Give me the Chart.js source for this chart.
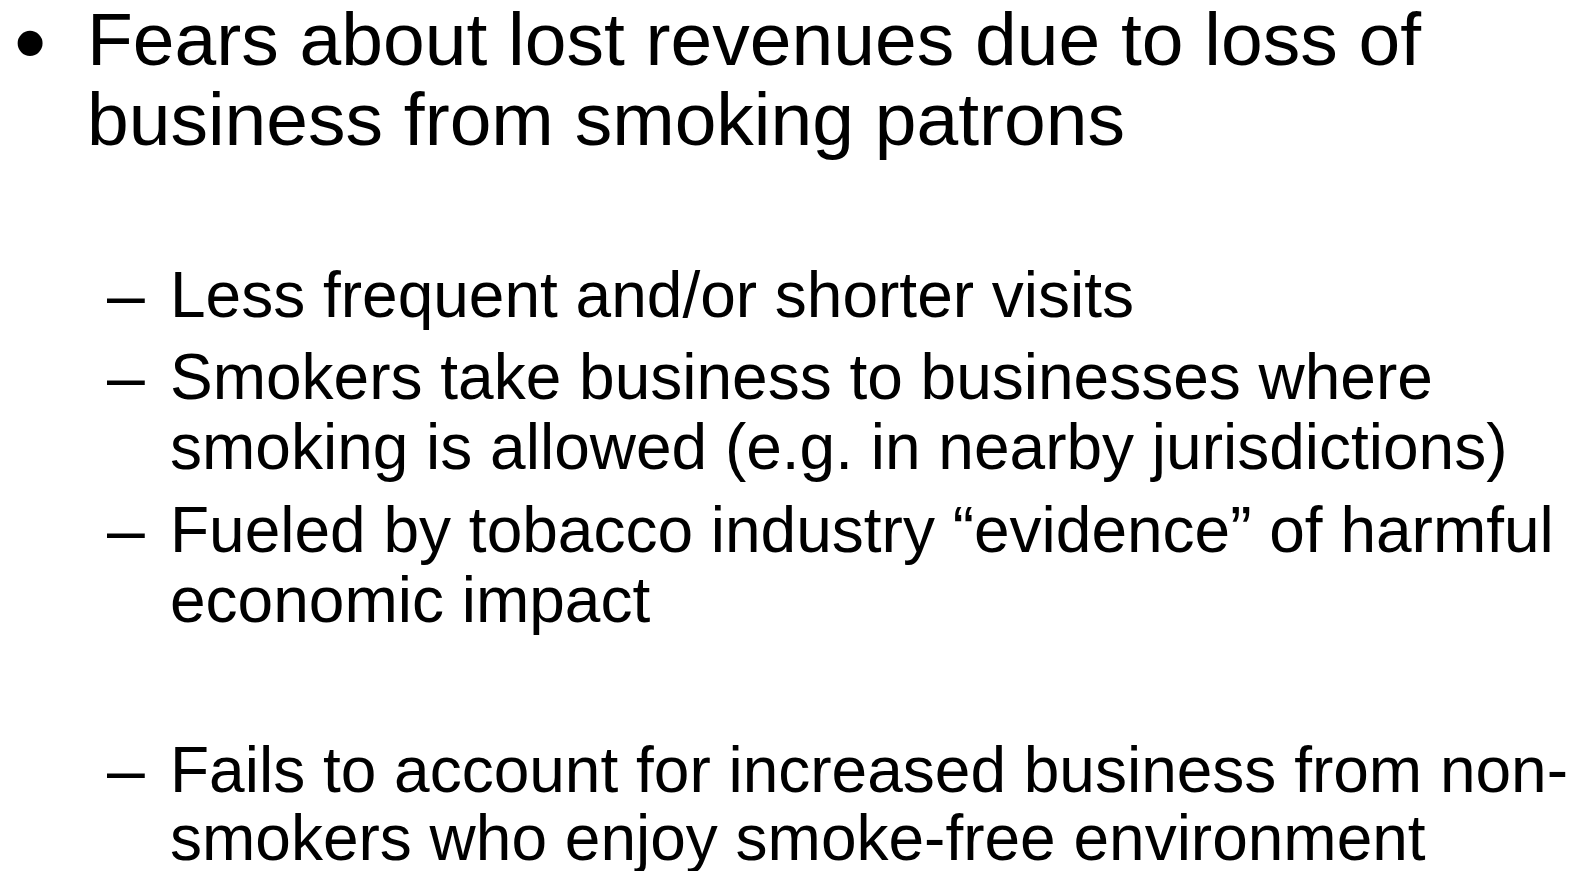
<!DOCTYPE html>
<html>
<head>
<meta charset="utf-8">
<title>Fears about lost revenues</title>
<script src="https://cdn.jsdelivr.net/npm/chart.js@4.4.1/dist/chart.umd.min.js"></script>
<style>
  html, body { margin: 0; padding: 0; background: #fff; }
  body { width: 1572px; height: 871px; position: relative; overflow: hidden;
         font-family: "Liberation Sans", Arial, sans-serif; color: #000; }
  #backdrop { position: absolute; left: 0; top: 0; }
  .line { position: absolute; white-space: nowrap; line-height: 1.117; }
  .main { font-size: 75px; left: 87px; }
  .bullet { font-size: 92px; left: 14px; }
  .sub { font-size: 64px; left: 170px; }
  .dash { font-size: 68px; left: 107px; }
</style>
</head>
<body>
<canvas id="backdrop" width="1572" height="871"></canvas>
<div id="slide"></div>
<script>
// slide text: one main point, four sub points
const mainPoint = [
  'Fears about lost revenues due to loss of',
  'business from smoking patrons'
];
const subPoints = [
  ['Less frequent and/or shorter visits'],
  ['Smokers take business to businesses where',
   'smoking is allowed (e.g. in nearby jurisdictions)'],
  ['Fueled by tobacco industry \u201cevidence\u201d of harmful',
   'economic impact'],
  ['Fails to account for increased business from non-',
   'smokers who enjoy smoke-free environment']
];

// baselines (px) for each line
const mainBaselines = [66, 146];
const subBaselines = [[318], [400, 470], [553, 623], [793, 861]];

const slide = document.getElementById('slide');

function addLine(text, cls, baseline, size) {
  const d = document.createElement('div');
  d.className = 'line ' + cls;
  d.textContent = text;
  d.style.top = (baseline - 0.905 * size) + 'px';
  slide.appendChild(d);
}

addLine('\u2022', 'bullet', 74, 92);
mainPoint.forEach((t, i) => addLine(t, 'main', mainBaselines[i], 75));

subPoints.forEach((lines, i) => {
  addLine('\u2013', 'dash', subBaselines[i][0] + 1, 68);
  lines.forEach((t, j) => addLine(t, 'sub', subBaselines[i][j], 64));
});

// the slide has no plotted data; an empty chart sits behind the text
const chart = new Chart(document.getElementById('backdrop'), {
  type: 'bar',
  data: { labels: [], datasets: [] },
  options: {
    responsive: false,
    animation: false,
    plugins: {
      legend: { display: false },
      tooltip: { enabled: false }
    },
    scales: {
      x: { display: false },
      y: { display: false }
    }
  }
});
</script>
</body>
</html>
